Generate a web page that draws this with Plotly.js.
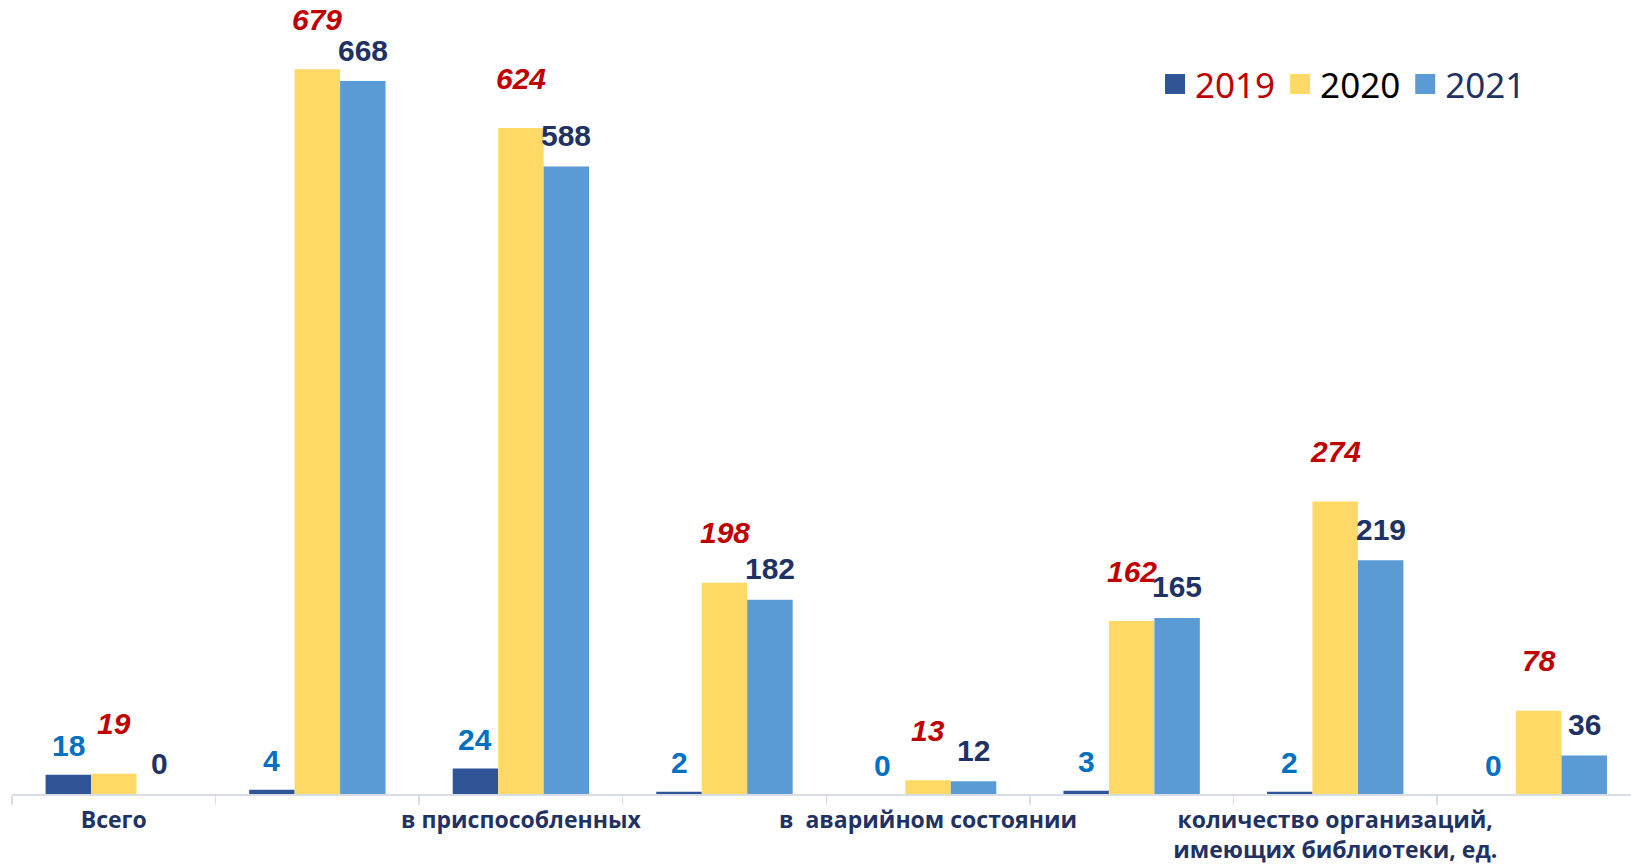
<!DOCTYPE html>
<html>
<head>
<meta charset="utf-8">
<script src="https://cdn.plot.ly/plotly-3.0.1.min.js"></script>
<style>
  html, body { margin: 0; padding: 0; background: #ffffff; }
  #chart { width: 1631px; height: 865px; }
</style>
</head>
<body>
<div id="chart"></div>
<script>
// ---- data ----
const categories = ["c0", "c1", "c2", "c3", "c4", "c5", "c6", "c7"];
const tickLabels = [
  "Всего",
  "",
  "в приспособленных",
  "",
  "в\u00a0 аварийном состоянии",
  "",
  "количество организаций,<br>имеющих библиотеки, ед.",
  ""
];
const seriesNames = ["2019", "2020", "2021"];
const values2019 = [18, 4, 24, 2, 0, 3, 2, 0];
const values2020 = [19, 679, 624, 198, 13, 162, 274, 78];
const values2021 = [0, 668, 588, 182, 12, 165, 219, 36];

// ---- styles ----
const barColors = ["#2f5597", "#ffd966", "#5b9bd5"];
const labelColors = ["#0070c0", "#c00000", "#1f3264"];
const legendTextColors = ["#c00000", "#000000", "#1f3264"];
const labelLift = [29, 50, 31];       // px from bar top to label centre
const labelItalic = [false, true, false];

const seriesValues = [values2019, values2020, values2021];

const traces = seriesValues.map((vals, i) => ({
  type: "bar",
  name: seriesNames[i],
  x: categories,
  y: vals,
  showlegend: false,
  marker: { color: barColors[i], line: { width: 0 } },
  hoverinfo: "skip"
}));

// legend entries (square markers, no data points)
seriesNames.forEach((nm, i) => {
  traces.push({
    type: "scatter",
    mode: "markers",
    name: '<span style="color:' + legendTextColors[i] + '">' + nm + '</span>',
    x: [null],
    y: [null],
    marker: { symbol: "square", size: 20, color: barColors[i], line: { width: 4, color: barColors[i] } },
    showlegend: true,
    hoverinfo: "skip"
  });
});

// bar geometry: group fills (1 - bargap) of a category, 3 bars
const plotLeft = 12, plotRight = 1631;
const xRange = [-0.5, 7.453];
const catPx = (plotRight - plotLeft) / (xRange[1] - xRange[0]);
const bargap = 0.33;
const barPx = catPx * (1 - bargap) / 3;

const annotations = [];
seriesValues.forEach((vals, i) => {
  vals.forEach((v, j) => {
    annotations.push({
      x: categories[j],
      y: v,
      xref: "x",
      yref: "y",
      text: labelItalic[i] ? "<i>" + v + "</i>" : String(v),
      showarrow: false,
      xanchor: "center",
      yanchor: "middle",
      xshift: (i - 1) * barPx,
      yshift: labelLift[i],
      font: { family: "Liberation Sans, Arial, sans-serif", size: 30, color: labelColors[i], weight: 700 }
    });
  });
});

const layout = {
  width: 1631,
  height: 865,
  margin: { l: plotLeft, r: 0, t: 0, b: 71, pad: 0 },
  paper_bgcolor: "#ffffff",
  plot_bgcolor: "#ffffff",
  barmode: "group",
  bargap: bargap,
  bargroupgap: 0,
  showlegend: true,
  legend: {
    orientation: "h",
    x: 0.706,
    xanchor: "left",
    y: 0.894,
    yanchor: "middle",
    font: { family: "Noto Sans, sans-serif", size: 35, color: "#000000" },
    bgcolor: "rgba(0,0,0,0)",
    itemclick: false,
    itemsizing: "trace",
    traceorder: "normal"
  },
  xaxis: {
    type: "category",
    range: xRange,
    tickmode: "array",
    tickvals: categories,
    ticktext: tickLabels,
    tickson: "boundaries",
    tickangle: 0,
    ticks: "outside",
    ticklen: 9,
    tickwidth: 1.5,
    tickcolor: "#d9dde6",
    showline: true,
    linecolor: "#d9dde6",
    linewidth: 2,
    showgrid: false,
    zeroline: false,
    tickfont: { family: "Open Sans, sans-serif", size: 23, color: "#1f3264", weight: 700 },
    ticklabelstandoff: 4,
    fixedrange: true
  },
  yaxis: {
    range: [0, 744],
    visible: false,
    showgrid: false,
    zeroline: false,
    fixedrange: true
  },
  annotations: annotations
};

Plotly.newPlot("chart", traces, layout, { displayModeBar: false, staticPlot: true });
</script>
</body>
</html>
